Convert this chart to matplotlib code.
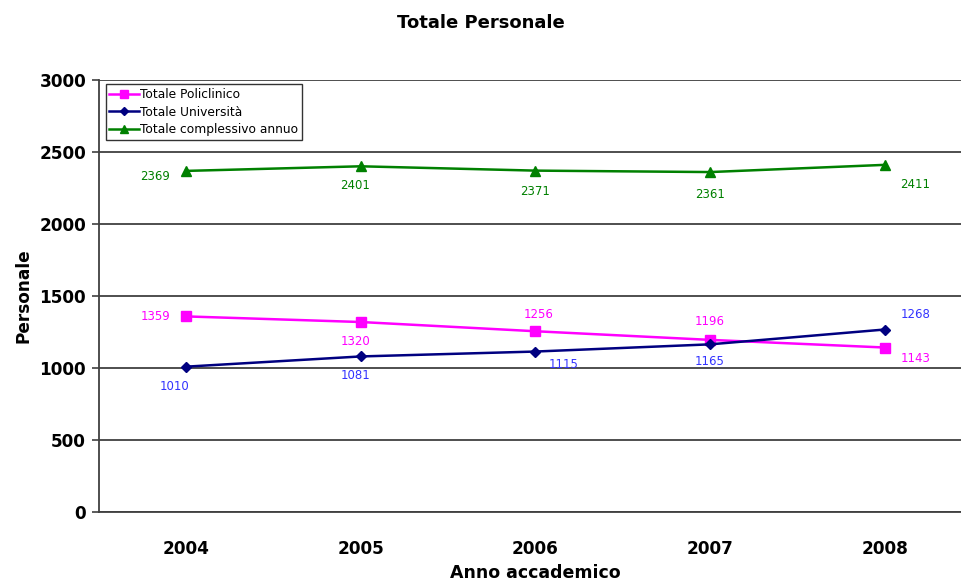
import matplotlib
matplotlib.use("Agg")
import matplotlib.pyplot as plt

years = ["2004", "2005", "2006", "2007", "2008"]
policlinico = [1359, 1320, 1256, 1196, 1143]
universita = [1010, 1081, 1115, 1165, 1268]
totale = [2369, 2401, 2371, 2361, 2411]

plt.rcParams['font.family'] = ['DejaVu Sans']

fig = plt.figure(figsize=(9.62, 5.84), dpi=100)
ax = fig.add_axes([0.1025, 0.123, 0.908, 0.740])
x = list(range(len(years)))

ax.plot(x, policlinico, color='#FF00FF', lw=1.8, marker='s', ms=6.5, label='Totale Policlinico', zorder=3)
ax.plot(x, universita, color='#000080', lw=1.8, marker='D', ms=5, label='Totale Università', zorder=3)
ax.plot(x, totale, color='#008000', lw=1.8, marker='^', ms=7, label='Totale complessivo annuo', zorder=3)

ax.set_xlim(-0.5, 4.5)
ax.set_ylim(0, 3000)
ax.set_yticks(range(0, 3001, 500))
ax.set_xticks(x)
ax.set_xticklabels(years)
ax.tick_params(axis='x', length=0, pad=20, labelsize=12.2)
ax.tick_params(axis='y', length=5, width=1.2, color='#404040', labelsize=12.2, pad=4)
for lab in ax.get_xticklabels() + ax.get_yticklabels():
    lab.set_fontweight('bold')
ax.grid(axis='y', color='#404040', lw=1.3, zorder=1)
ax.set_axisbelow(True)
for s in ['top', 'right']:
    ax.spines[s].set_visible(False)
for s in ['left', 'bottom']:
    ax.spines[s].set_color('#404040')
    ax.spines[s].set_linewidth(1.3)

ax.set_ylabel('Personale', fontsize=12.2, fontweight='bold', labelpad=5)
ax.set_xlabel('Anno accademico', fontsize=12.5, fontweight='bold', labelpad=4)
fig.text(0.5, 0.96, 'Totale Personale', ha='center', va='center', fontsize=13, fontweight='bold')

pol_off = [(-22, 0), (-4, -14), (2, 12), (0, 13), (22, -8)]
uni_off = [(-8, -14), (-4, -14), (20, -9), (0, -12), (22, 11)]
tot_off = [(-22, -4), (-4, -14), (0, -15), (0, -16), (22, -14)]
for i in x:
    ax.annotate(str(policlinico[i]), (x[i], policlinico[i]), xytext=pol_off[i], textcoords='offset points',
                ha='center', va='center', fontsize=8.5, color='#FF00FF')
    ax.annotate(str(universita[i]), (x[i], universita[i]), xytext=uni_off[i], textcoords='offset points',
                ha='center', va='center', fontsize=8.5, color='#3333FF')
    ax.annotate(str(totale[i]), (x[i], totale[i]), xytext=tot_off[i], textcoords='offset points',
                ha='center', va='center', fontsize=8.5, color='#008000')

leg = ax.legend(loc='upper left', bbox_to_anchor=(0.008, 0.99), fontsize=8.8, frameon=True, fancybox=False,
                edgecolor='black', handlelength=2.4, borderpad=0.3, labelspacing=0.38, handletextpad=0.1,
                borderaxespad=0, markerscale=0.8)
leg.get_frame().set_linewidth(1.0)

fig.savefig('out.png', dpi=100)
